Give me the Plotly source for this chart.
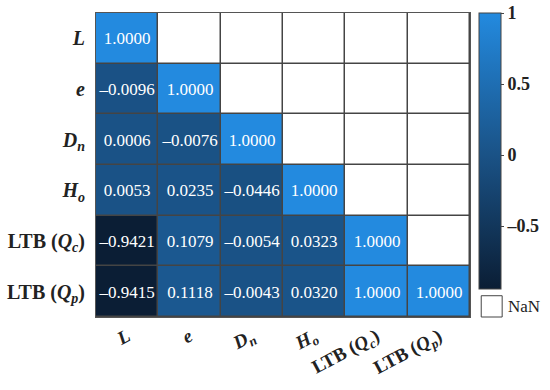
import numpy as np
import plotly.graph_objects as go

# variable names (tick labels)
y_labels = ["<b><i>L</i></b>", "<b><i>e</i></b>", "<b><i>D<sub>n</sub></i></b>",
            "<b><i>H<sub>o</sub></i></b>", "<b>LTB (<i>Q<sub>c</sub></i>)</b>",
            "<b>LTB (<i>Q<sub>p</sub></i>)</b>"]
x_labels = y_labels

# lower-triangular correlation matrix (None = NaN)
row_L   = [1.0000, None, None, None, None, None]
row_e   = [-0.0096, 1.0000, None, None, None, None]
row_Dn  = [0.0006, -0.0076, 1.0000, None, None, None]
row_Ho  = [0.0053, 0.0235, -0.0446, 1.0000, None, None]
row_LQc = [-0.9421, 0.1079, -0.0054, 0.0323, 1.0000, None]
row_LQp = [-0.9415, 0.1118, -0.0043, 0.0320, 1.0000, 1.0000]

z = np.array([row_L, row_e, row_Dn, row_Ho, row_LQc, row_LQp], dtype=float)

def fmt(v):
    if np.isnan(v):
        return ""
    s = f"{abs(v):.4f}"
    return ("\u2013" + s) if v < 0 else s

text = [[fmt(v) for v in row] for row in z]
nan_mask = np.where(np.isnan(z), 0.0, np.nan)

xs = list(range(len(x_labels)))
ys = list(range(len(y_labels)))

SERIF = "Liberation Serif"

fig = go.Figure()
fig.add_trace(go.Heatmap(
    z=nan_mask, x=xs, y=ys, colorscale=[[0, "white"], [1, "white"]],
    showscale=False, xgap=1.5, ygap=1.5, hoverinfo="skip"))
fig.add_trace(go.Heatmap(
    z=z, x=xs, y=ys, text=text, texttemplate="%{text}",
    textfont=dict(family=SERIF, size=17, color="white"),
    zmin=-0.9421, zmax=1,
    colorscale=[[0, "#0b1e35"], [0.485, "#1a5286"], [1, "#238adf"]],
    xgap=1.5, ygap=1.5,
    colorbar=dict(thickness=22, len=0.908, y=1, yanchor="top", x=1.025, xanchor="left",
                  xpad=0, ypad=0, outlinecolor="#444", outlinewidth=1,
                  tickvals=[1, 0.5, 0, -0.5], ticktext=["<b>1</b>", "<b>0.5</b>", "<b>0</b>", "<b>\u20130.5</b>"],
                  ticks="outside", ticklen=3,
                  tickfont=dict(family=SERIF, size=18, color="#222"))))

fig.update_xaxes(tickvals=xs, ticktext=x_labels, tickangle=-28, showgrid=False,
                 zeroline=False, showline=True, mirror=True, linecolor="#555", linewidth=1,
                 tickfont=dict(family=SERIF, size=19, color="#222"),
                 range=[-0.5, 5.5])
fig.update_yaxes(tickvals=ys, ticktext=y_labels, autorange="reversed", showgrid=False,
                 zeroline=False, showline=True, mirror=True, linecolor="#555", linewidth=1,
                 tickfont=dict(family=SERIF, size=20, color="#222"),
                 ticklabelstandoff=6)

# NaN legend box
fig.add_shape(type="rect", xref="paper", yref="paper", x0=1.03, x1=1.086, y0=0.0, y1=0.07,
              line=dict(color="#444", width=1), fillcolor="white")
fig.add_annotation(text="NaN", xref="paper", yref="paper", x=1.097, y=0.035,
                   xanchor="left", yanchor="middle", showarrow=False,
                   font=dict(family=SERIF, size=17, color="#222"))

fig.update_layout(width=550, height=390, plot_bgcolor="#444", paper_bgcolor="white",
                  font=dict(family=SERIF),
                  margin=dict(l=96, r=80, t=13, b=73, autoexpand=False))
fig.write_html("out.html", config={"displayModeBar": False},
               post_script="document.body.style.margin='0';")
